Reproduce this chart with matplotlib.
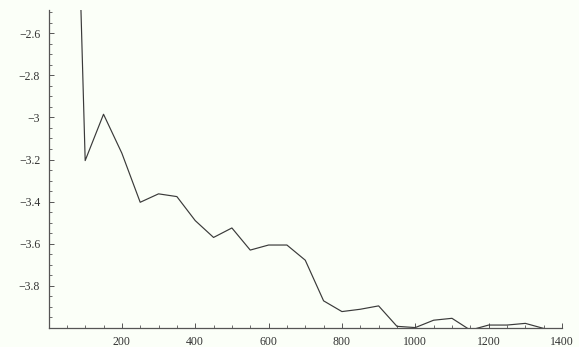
import matplotlib
matplotlib.use("Agg")
import matplotlib.pyplot as plt
from matplotlib.ticker import MultipleLocator, FixedLocator, FuncFormatter
import numpy as np

# valores medidos cada 50 unidades
x_vals = [50, 100, 150, 200, 250, 300, 350, 400, 450, 500, 550, 600, 650,
          700, 750, 800, 850, 900, 950, 1000, 1050, 1100, 1150, 1200, 1250,
          1300, 1350]
y_vals = [-0.10, -3.205, -2.985, -3.17, -3.403, -3.363, -3.376, -3.49, -3.57,
          -3.525, -3.63, -3.606, -3.606, -3.678, -3.871, -3.922, -3.911, -3.895,
          -3.992, -3.998, -3.963, -3.954, -4.01, -3.986, -3.986, -3.978, -4.002]

x_major = [200, 400, 600, 800, 1000, 1200, 1400]
y_major = [-3.8, -3.6, -3.4, -3.2, -3.0, -2.8, -2.6]

fondo = "#fbfff8"
gris = "#3a3a3a"

fig = plt.figure(figsize=(5.79, 3.47), dpi=100, facecolor=fondo)
ax = fig.add_axes([48.5 / 579, 19 / 347, (562 - 48.5) / 579, (328 - 10) / 347])
ax.set_facecolor(fondo)

ax.plot(x_vals, y_vals, color=gris, lw=0.85)

ax.set_xlim(0, 1400)
ax.set_ylim(-4.0, -2.49)

for lado in ["top", "right"]:
    ax.spines[lado].set_visible(False)
for lado in ["left", "bottom"]:
    ax.spines[lado].set_color("#555555")
    ax.spines[lado].set_linewidth(0.9)

ax.xaxis.set_major_locator(FixedLocator(x_major))
ax.xaxis.set_minor_locator(MultipleLocator(50))
ax.yaxis.set_major_locator(FixedLocator(y_major))
ax.yaxis.set_minor_locator(MultipleLocator(0.05))

fmt = FuncFormatter(lambda v, p: ("%g" % round(v, 2)).replace("-", "\u2212"))
ax.xaxis.set_major_formatter(fmt)
ax.yaxis.set_major_formatter(fmt)

ax.tick_params(which="major", direction="in", length=3.5, width=0.7,
               color="#555555", labelsize=8.5, labelcolor="#333333", pad=6)
ax.tick_params(which="minor", direction="in", length=2, width=0.6,
               color="#555555")
for lbl in ax.get_xticklabels() + ax.get_yticklabels():
    lbl.set_family("Liberation Serif")

fig.savefig("out.png", dpi=100, facecolor=fondo)
